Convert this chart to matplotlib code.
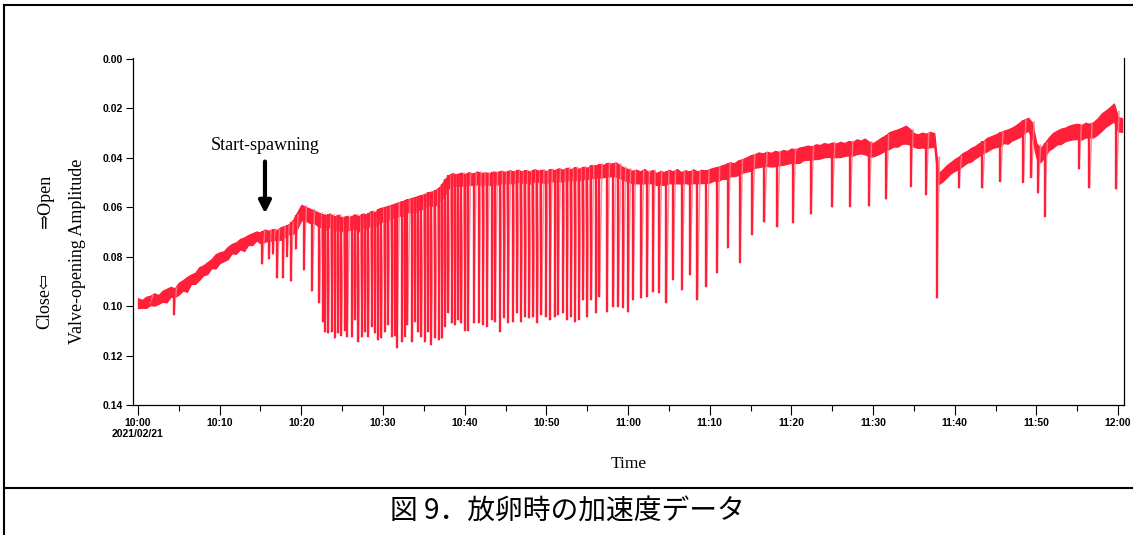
import numpy as np
import matplotlib.pyplot as plt
from matplotlib.lines import Line2D
from matplotlib.ticker import FixedLocator, FixedFormatter

# ------------------------------------
# Data (minutes after 10:00, amplitude in units of 1e-4)
# ------------------------------------

# resting band, read every 0.5 min: upper edge and thickness
band_top_e4 = [
    968, 975, 962, 958, 948, 955, 938, 930, 922, 928,
    905, 895, 882, 872, 865, 842, 835, 822, 810, 790,
    782, 778, 760, 748, 742, 728, 722, 712, 705, 698,
    702, 690, 695, 688, 692, 680, 675, 668, 650, 620,
    590, 598, 605, 612, 620,
    628, 632, 625, 638, 630, 642, 635, 640, 628, 636,
    625, 630, 615, 620, 605, 600, 596, 590, 585, 578,
    575, 568, 562, 558, 552, 548, 540, 536, 528, 515,
    490, 470, 462, 468, 460, 466, 458, 465, 455, 462,
    458, 464, 455, 460, 452, 458, 450, 456, 448, 455,
    450, 456, 446, 452, 448, 454, 445, 450, 442, 448,
    440, 446, 438, 444, 436, 440, 430, 432, 425, 428,
    420, 425, 418, 430, 440, 445,
    452, 448, 455, 445, 458, 450, 462, 452, 460, 448,
    455, 445, 458, 450, 456, 446, 455, 448, 452, 445,
    440, 436, 430, 425, 418, 422, 410, 405, 398, 390,
    385, 378, 382, 375, 380, 372, 376, 368, 372, 362,
    366, 358, 355, 350, 354, 345, 348, 340, 344, 338,
    342, 335, 340, 332, 336, 325, 330, 322, 335, 340,
    330, 318, 310, 296, 290, 285, 278, 270, 282, 300,
    305, 298, 302, 295, 300, 462, 448, 430, 418, 405,
    395, 380, 372, 360, 352, 340, 332, 318, 312, 305,
    298, 290, 285, 278, 268, 255, 245, 238, 258, 340,
    362, 340, 318, 300, 290, 282, 278, 270, 265, 262,
    268, 258, 262, 255, 240, 220, 208, 195, 180, 235,
    240]
band_width_e4 = [
    40, 32, 45, 38, 50, 36, 44, 55, 40, 35,
    48, 42, 60, 38, 45, 52, 40, 48, 36, 58,
    44, 40, 50, 38, 46, 42, 55, 40, 48, 36,
    44, 50, 40, 46, 38, 52, 44, 40, 58, 65,
    62, 55, 58, 50, 55,
    55, 60, 52, 58, 62, 55, 60, 50, 58, 62,
    55, 60, 52, 58, 60, 55, 62, 50, 58, 55,
    60, 52, 58, 62, 55, 60, 50, 58, 62, 60,
    65, 55, 50, 45, 52, 48, 50, 45, 52, 48,
    50, 45, 52, 48, 50, 45, 52, 48, 50, 45,
    52, 48, 50, 45, 52, 48, 50, 45, 52, 48,
    50, 45, 52, 48, 50, 45, 52, 48, 55, 50,
    55, 50, 58, 52, 50, 52,
    50, 55, 48, 58, 45, 52, 48, 56, 50, 54,
    48, 58, 46, 52, 50, 56, 48, 54, 50, 55,
    52, 58, 55, 60, 56, 52, 60, 55, 58, 62,
    55, 60, 52, 58, 55, 62, 54, 60, 52, 58,
    55, 62, 54, 58, 52, 60, 55, 58, 52, 60,
    55, 62, 52, 58, 55, 60, 52, 64, 58, 54,
    58, 62, 60, 68, 64, 70, 66, 72, 64, 55,
    55, 60, 58, 62, 55, 45, 48, 50, 45, 48,
    50, 52, 48, 55, 50, 52, 48, 55, 50, 52,
    55, 50, 58, 52, 55, 60, 55, 52, 65, 60,
    55, 58, 52, 60, 56, 62, 55, 58, 60, 62,
    58, 60, 55, 62, 65, 70, 66, 68, 72, 58,
    55]

# downward spikes (valve closing): time in minutes, deepest value
spike_t = [1.5, 4.4, 15.2, 16.0, 16.5, 17.0, 17.7, 18.2, 18.7, 19.3, 20.3, 21.3,
           22.2, 22.6, 22.9, 23.3, 23.7, 24.1, 24.5, 24.9, 25.3, 25.6, 26.2,
           26.6, 27.0, 27.4, 27.8, 28.2, 28.6, 29.0, 29.4, 29.8, 30.2, 30.6,
           31.1, 31.5, 31.7, 32.3, 32.7, 33.0, 33.5, 33.9, 34.3, 34.7, 35.1,
           35.5, 35.9, 36.4, 36.8, 37.2, 37.6, 38.0, 38.4, 38.8, 39.2, 39.6,
           40.0, 40.4, 41.1, 41.7, 42.2, 42.7, 43.3, 43.7, 44.3, 44.8, 45.3,
           45.9, 46.4, 46.9, 47.4, 47.9, 48.4, 48.9, 49.4, 49.9, 50.4, 51.0,
           51.4, 52.0, 52.5, 53.0, 53.5, 54.0, 54.5, 55.0, 55.5, 56.1, 56.5,
           57.4, 58.2, 58.8, 59.4, 60.0, 60.6, 61.6, 62.3, 63.0, 63.8, 64.7,
           65.5, 66.6, 67.6, 68.5, 69.6, 70.9, 72.2, 73.7, 75.2, 76.7, 78.3,
           80.2, 82.4, 85.0, 87.2, 89.5, 91.6, 94.6, 96.5, 97.8, 100.5, 103.4,
           105.6, 108.4, 109.4, 110.2, 111.0, 115.2, 116.5, 119.8]
spike_low = [0.0985, 0.1036, 0.0830, 0.0810, 0.0790, 0.0886, 0.0886, 0.0800,
             0.0900, 0.0770, 0.0854, 0.0940, 0.0987, 0.1064, 0.1105, 0.1110,
             0.1105, 0.1130, 0.1110, 0.1120, 0.1100, 0.1125, 0.1125, 0.1056,
             0.1145, 0.1125, 0.1105, 0.1125, 0.1084, 0.1110, 0.1137, 0.1130,
             0.1105, 0.1076, 0.1125, 0.1120, 0.1170, 0.1145, 0.1125, 0.1076,
             0.1145, 0.1064, 0.1105, 0.1125, 0.1145, 0.1105, 0.1157, 0.1130,
             0.1137, 0.1130, 0.1084, 0.1028, 0.1070, 0.1076, 0.1056, 0.1070,
             0.1100, 0.1100, 0.1068, 0.1068, 0.1076, 0.1084, 0.1056, 0.1064,
             0.1105, 0.1048, 0.1068, 0.1064, 0.1028, 0.1064, 0.1044, 0.1048,
             0.1044, 0.1068, 0.1036, 0.1044, 0.1056, 0.1044, 0.1036, 0.1028,
             0.1056, 0.1044, 0.1064, 0.1056, 0.0975, 0.1044, 0.0975, 0.1028,
             0.0963, 0.1024, 0.1003, 0.1003, 0.1007, 0.1024, 0.0975, 0.0967,
             0.0963, 0.0943, 0.0947, 0.0987, 0.0894, 0.0935, 0.0874, 0.0975,
             0.0922, 0.0866, 0.0765, 0.0825, 0.0712, 0.0660, 0.0680, 0.0664,
             0.0628, 0.0600, 0.0598, 0.0595, 0.0568, 0.0517, 0.0550, 0.0968,
             0.0523, 0.0523, 0.0496, 0.0500, 0.0480, 0.0543, 0.0638, 0.0446,
             0.0523, 0.0527]

tick_min = [0, 10, 20, 30, 40, 50, 60, 70, 80, 90, 100, 110, 120]
tick_lab = ["10:00\n2021/02/21", "10:10", "10:20", "10:30", "10:40", "10:50",
            "11:00", "11:10", "11:20", "11:30", "11:40", "11:50", "12:00"]
y_ticks = [0.00, 0.02, 0.04, 0.06, 0.08, 0.10, 0.12, 0.14]

red = "#ff1f38"
pink = "#ff7f8c"
serif = ["Liberation Serif", "DejaVu Serif", "DejaVu Sans"]

band_t = np.arange(len(band_top_e4)) * 0.5
band_top = np.array(band_top_e4) / 1e4
band_bot = band_top + np.array(band_width_e4) / 1e4

# ------------------------------------
# Figure
# ------------------------------------

fig = plt.figure(figsize=(11.33, 5.35), dpi=100)
ax = fig.add_axes([133 / 1133, 1 - 405 / 535, 991 / 1133, 347 / 535])

ax.fill_between(band_t, band_top, band_bot, color=red, lw=0.9, edgecolor=red)

spike_top = np.interp(spike_t, band_t, band_top)
# recovery strokes after each closing
for t, lo, top in zip(spike_t, spike_low, spike_top):
    ax.plot([t, t + 0.32], [lo, top], color=pink, lw=1.1, alpha=0.85)
ax.vlines(spike_t, spike_top, spike_low, color=red, lw=1.7)

ax.set_xlim(-0.61, 120.73)
ax.set_ylim(0.14, -0.0004)

ax.xaxis.set_major_locator(FixedLocator(tick_min))
ax.xaxis.set_major_formatter(FixedFormatter(tick_lab))
ax.xaxis.set_minor_locator(FixedLocator([m + 5 for m in tick_min[:-1]]))
ax.set_yticks(y_ticks)
ax.set_yticklabels([f"{v:.2f}" for v in y_ticks])

for lab in ax.get_xticklabels() + ax.get_yticklabels():
    lab.set_fontfamily("Liberation Sans")
    lab.set_fontweight("bold")
    lab.set_fontsize(7.5)

ax.tick_params(axis="x", which="major", length=7, width=0.8, pad=2)
ax.tick_params(axis="x", which="minor", length=4, width=0.8)
ax.tick_params(axis="y", length=5, width=0.8, pad=2)
ax.spines["top"].set_visible(False)
for s in ["left", "bottom", "right"]:
    ax.spines[s].set_linewidth(0.9)

ax.set_xlabel("Time", family=serif, fontsize=12.5, labelpad=12)

fig.text(78 / 1133, 1 - 251 / 535, "Valve-opening Amplitude", rotation=90,
         ha="center", va="center", family=serif, fontsize=13)
fig.text(45 / 1133, 1 - 201 / 535, "\u21d2Open", rotation=90,
         ha="center", va="center", family=serif, fontsize=13)
fig.text(45 / 1133, 1 - 301 / 535, "Close\u21e6", rotation=90,
         ha="center", va="center", family=serif, fontsize=13)

ax.annotate("", xy=(15.55, 0.0625), xytext=(15.55, 0.0415),
            arrowprops=dict(arrowstyle="-|>", lw=3, color="black",
                            mutation_scale=18, shrinkA=0, shrinkB=0))
ax.text(15.55, 0.0352, "Start-spawning", ha="center", va="center",
        family=serif, fontsize=13)

# frame and caption
fig.add_artist(Line2D([4 / 1133, 4 / 1133], [0, 1 - 5 / 535], color="black", lw=1.5))
fig.add_artist(Line2D([4 / 1133, 1], [1 - 5 / 535, 1 - 5 / 535], color="black", lw=1.5))
fig.add_artist(Line2D([4 / 1133, 1], [1 - 488 / 535, 1 - 488 / 535], color="black", lw=1.5))
fig.text(567 / 1133, 1 - 512 / 535, "図 9．放卵時の加速度データ", ha="center", va="center",
         family=["Noto Sans CJK JP", "DejaVu Sans"], fontsize=20)

fig.savefig("out.png", dpi=100)
